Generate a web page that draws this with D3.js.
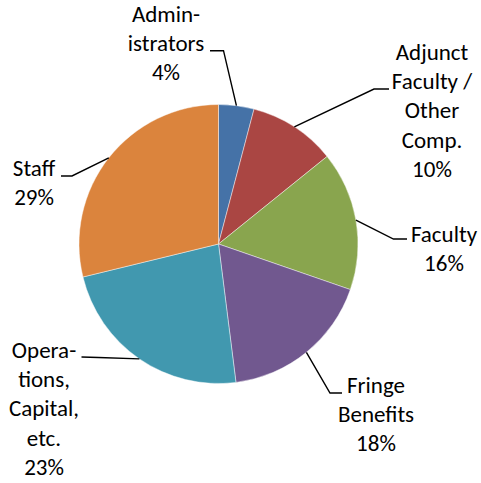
<!DOCTYPE html>
<html>
<head>
<meta charset="utf-8">
<script src="https://cdn.jsdelivr.net/npm/d3@7"></script>
<style>
  html, body { margin: 0; padding: 0; background: #fff; }
  svg text { font-family: Carlito, Calibri, Lato, sans-serif; font-size: 23px; fill: #000; }
</style>
</head>
<body>
<svg id="chart" width="481" height="483"></svg>
<script>
// ---- data ----
const categories = ["Administrators", "Adjunct Faculty / Other Comp.", "Faculty", "Fringe Benefits", "Operations, Capital, etc.", "Staff"];
const labelLines = [
  ["Admin-", "istrators"],
  ["Adjunct", "Faculty /", "Other", "Comp."],
  ["Faculty"],
  ["Fringe", "Benefits"],
  ["Opera-", "tions,", "Capital,", "etc."],
  ["Staff"]
];
const shares = [4.1, 10.1, 16.1, 17.7, 23.2, 28.8];
const colors = ["#4572A7", "#AA4643", "#89A54E", "#71588F", "#4198AF", "#DB843D"];

// ---- layout (label placement, relative to pie centre) ----
const cx = 218.5, cy = 244, R = 139.5;
const lineH = 29.2;
// text block centre x, first baseline y, elbow point, leader end point
const labelLayout = [
  { tx: -52.5, ty: -222, elbow: [5, -193.3], end: [-8.5, -193.3] },
  { tx: 213.5, ty: -184, elbow: [155.5, -155], end: [170.5, -155] },
  { tx: 225.5, ty: -2, elbow: [175, -5], end: [188.5, -5] },
  { tx: 157.5, ty: 149, elbow: [111.5, 149], end: [123.5, 149] },
  { tx: -174.5, ty: 114, elbow: [-120, 113.5], end: [-137, 113] },
  { tx: -184.5, ty: -68, elbow: [-146.5, -68], end: [-157.5, -68] }
];

const svg = d3.select("#chart");
const g = svg.append("g").attr("transform", `translate(${cx},${cy})`);

const pie = d3.pie().sort(null).value(d => d)(shares);
const arc = d3.arc().innerRadius(0).outerRadius(R);

g.selectAll("path.slice")
  .data(pie)
  .join("path")
  .attr("class", "slice")
  .attr("d", arc)
  .attr("fill", (d, i) => colors[i])
  .attr("stroke", "#ffffff")
  .attr("stroke-opacity", 0.55)
  .attr("stroke-width", 0.8);

const edgeArc = d3.arc().innerRadius(R).outerRadius(R);

pie.forEach((d, i) => {
  const L = labelLayout[i];
  const p = edgeArc.centroid(d);
  g.append("polyline")
    .attr("points", [p, L.elbow, L.end].map(q => q.join(",")).join(" "))
    .attr("fill", "none")
    .attr("stroke", "#000")
    .attr("stroke-width", 1.4);
  const lines = labelLines[i].concat([Math.round(shares[i]) + "%"]);
  const t = g.append("text").attr("text-anchor", "middle");
  lines.forEach((s, k) => {
    t.append("tspan").attr("x", L.tx).attr("y", L.ty + k * lineH).text(s);
  });
});
</script>
</body>
</html>
